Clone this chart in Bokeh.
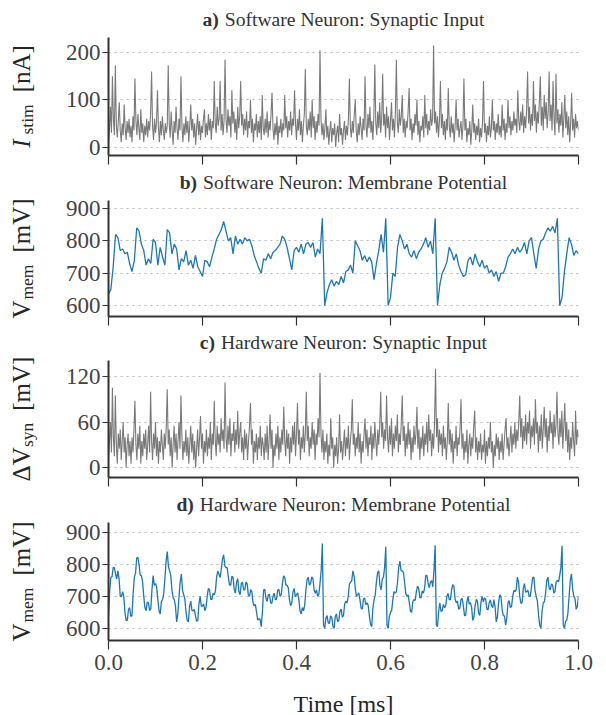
import numpy as np
from bokeh.plotting import figure
from bokeh.layouts import column, row
from bokeh.models import Range1d, Label
from bokeh.embed import file_html
from bokeh.resources import INLINE

# ---------------- data ----------------
panel_letters = ["a)", "b)", "c)", "d)"]
panel_titles = ["Software Neuron: Synaptic Input",
                "Software Neuron: Membrane Potential",
                "Hardware Neuron: Synaptic Input",
                "Hardware Neuron: Membrane Potential"]
ylabel_main = ["I", "V", "\u0394V", "V"]
ylabel_sub = ["stim", "mem", "syn", "mem"]
ylabel_unit = ["[nA]", "[mV]", "[mV]", "[mV]"]
xlabel = "Time [ms]"

xticks = [0.0, 0.2, 0.4, 0.6, 0.8, 1.0]
yticks_a = [0, 100, 200]
yticks_b = [600, 700, 800, 900]
yticks_c = [0, 60, 120]
yticks_d = [600, 700, 800, 900]

# a) software synaptic input current [nA]
sw_input = [5, 40, 85, 30, 150, 60, 25, 173, 45, 20, 55, 95, 35, 10, 50, 25, 90, 40, 15, 55,
            30, 60, 20, 45, 10, 65, 35, 145, 55, 25, 70, 40, 15, 80, 30, 50, 10, 45, 25, 60,
            20, 55, 35, 70, 160, 45, 15, 60, 30, 50, 120, 40, 10, 55, 25, 65, 35, 15, 50, 30,
            45, 173, 50, 20, 75, 35, 5, 55, 30, 85, 40, 15, 60, 35, 150, 45, 10, 50, 25, 65,
            30, 55, 10, 45, 90, 35, 60, 20, 50, 5, 40, 70, 25, 55, 15, 45, 30, 60, 80, 20,
            50, 25, 70, 35, 60, 15, 55, 40, 140, 50, 30, 85, 45, 60, 140, 35, 70, 25, 55, 185,
            60, 30, 80, 45, 65, 20, 120, 50, 75, 30, 60, 15, 85, 40, 65, 140, 45, 70, 25, 60,
            35, 75, 20, 55, 40, 100, 30, 60, 10, 50, 35, 70, 20, 55, 30, 65, 15, 110, 40, 25,
            60, 30, 75, 20, 55, 35, 70, 115, 40, 15, 50, 25, 65, 5, 45, 30, 60, 20, 50, 35,
            110, 40, 65, 20, 55, 35, 75, 25, 60, 45, 120, 50, 15, 60, 35, 80, 25, 55, 10, 45,
            70, 165, 45, 25, 60, 35, 75, 20, 100, 40, 65, 15, 55, 30, 70, 45, 205, 60, 25, 50,
            15, 40, 80, 20, 45, 5, 35, 55, 10, 40, 25, 50, 0, 30, 45, 10, 70, 25, 40, 5,
            35, 55, 15, 45, 25, 60, 145, 40, 20, 55, 30, 70, 100, 35, 10, 50, 25, 65, 40, 15,
            60, 35, 150, 45, 20, 70, 40, 85, 30, 55, 15, 65, 175, 50, 25, 75, 40, 95, 30, 60,
            155, 45, 70, 20, 85, 40, 65, 15, 55, 95, 35, 60, 20, 75, 185, 50, 30, 80, 45, 65,
            110, 30, 60, 20, 55, 40, 75, 125, 35, 60, 15, 50, 30, 70, 45, 100, 25, 55, 10, 45,
            35, 65, 20, 110, 40, 70, 25, 55, 35, 80, 45, 60, 215, 50, 75, 30, 65, 20, 55, 140,
            40, 70, 25, 55, 15, 60, 35, 125, 45, 20, 65, 30, 50, 10, 45, 100, 35, 60, 20, 40,
            55, 15, 45, 145, 35, 60, 10, 40, 25, 55, 5, 35, 90, 30, 50, 15, 45, 25, 60, 10,
            40, 20, 55, 140, 30, 50, 10, 45, 25, 65, 20, 40, 100, 35, 55, 15, 50, 30, 70, 25,
            45, 20, 90, 35, 60, 15, 50, 30, 100, 40, 65, 25, 55, 35, 75, 45, 60, 30, 120, 55,
            35, 75, 45, 90, 30, 65, 40, 80, 160, 50, 85, 35, 70, 45, 140, 55, 90, 30, 75, 50,
            95, 150, 45, 85, 35, 110, 60, 95, 40, 75, 160, 55, 90, 35, 140, 60, 25, 155, 50, 80,
            30, 70, 45, 95, 20, 60, 110, 40, 75, 25, 65, 10, 50, 115, 35, 60, 20, 70, 40, 55,
            35]

# b) software membrane potential [mV]
sw_vmem = [635, 650, 720, 820, 810, 770, 775, 760, 765, 730,
           705, 740, 840, 830, 790, 770, 725, 745, 730, 805,
           795, 725, 780, 750, 725, 835, 825, 760, 790, 775,
           710, 745, 735, 770, 725, 740, 715, 755, 720, 705,
           690, 740, 735, 720, 750, 775, 805, 820, 835, 860,
           830, 800, 810, 760, 815, 790, 805, 790, 810, 800,
           805, 785, 755, 735, 715, 700, 745, 740, 760, 745,
           765, 770, 780, 790, 815, 805, 780, 745, 710, 770,
           780, 765, 790, 760, 790, 795, 780, 795, 750, 775,
           760, 870, 600, 640, 665, 680, 660, 675, 665, 690,
           670, 705, 710, 725, 700, 800, 785, 770, 740, 755,
           735, 750, 735, 680, 730, 770, 820, 765, 870, 600,
           625, 700, 690, 780, 820, 800, 775, 790, 760, 750,
           770, 745, 765, 775, 790, 810, 780, 800, 760, 870,
           600, 665, 700, 715, 735, 780, 765, 740, 760, 725,
           705, 690, 695, 740, 750, 725, 760, 735, 720, 740,
           715, 725, 700, 710, 690, 705, 675, 700, 700, 720,
           750, 760, 775, 760, 780, 765, 775, 795, 760, 800,
           810, 760, 715, 775, 800, 805, 825, 840, 830, 845,
           825, 870, 600, 625, 705, 760, 810, 790, 755, 770,
           760]

# c) hardware synaptic input [mV]
hw_input = [10, 35, 60, 20, 105, 40, 15, 95, 30, 5, 45, 25, 50, 10, 35, 60, 20, 40, 0, 30,
            45, 15, 35, 5, 40, 20, 50, 88, 30, 10, 45, 25, 55, 5, 35, 15, 45, 25, 50, 10,
            30, 55, 20, 100, 35, 10, 45, 25, 60, 15, 40, 5, 35, 20, 50, 30, 10, 45, 25, 55,
            103, 30, 50, 15, 40, 0, 30, 55, 20, 45, 10, 35, 60, 25, 95, 40, 10, 35, 20, 50,
            15, 40, 5, 30, 55, 20, 45, 10, 35, 0, 25, 50, 15, 40, 68, 25, 45, 5, 35, 20,
            50, 15, 40, 25, 60, 10, 45, 30, 88, 35, 15, 55, 30, 45, 20, 65, 35, 50, 25, 112,
            40, 20, 55, 30, 65, 15, 45, 35, 60, 20, 50, 30, 75, 25, 45, 60, 20, 40, 10, 50,
            25, 45, 10, 35, 55, 85, 30, 50, 5, 35, 20, 45, 10, 40, 25, 55, 15, 40, 30, 10,
            45, 20, 55, 10, 35, 70, 25, 50, 0, 30, 15, 45, 25, 55, 10, 40, 20, 50, 30, 80,
            35, 15, 50, 25, 45, 5, 40, 20, 55, 30, 60, 15, 45, 85, 30, 50, 10, 40, 25, 55,
            20, 45, 100, 35, 55, 15, 40, 25, 60, 30, 50, 10, 45, 30, 65, 40, 125, 45, 20, 50,
            10, 35, 20, 45, 5, 30, 15, 65, 25, 40, 0, 30, 15, 40, 5, 25, 70, 20, 35, 10,
            30, 50, 15, 40, 25, 55, 10, 35, 50, 90, 30, 45, 15, 40, 25, 60, 20, 45, 5, 35,
            20, 45, 65, 25, 50, 15, 40, 30, 55, 10, 45, 25, 60, 35, 15, 50, 30, 55, 100, 40,
            60, 25, 50, 35, 95, 40, 20, 55, 30, 65, 15, 45, 25, 55, 35, 70, 20, 45, 30, 60,
            95, 35, 55, 15, 45, 25, 60, 30, 50, 10, 40, 20, 55, 30, 45, 80, 25, 50, 10, 40,
            25, 55, 15, 45, 30, 60, 20, 70, 35, 50, 15, 45, 25, 60, 130, 40, 65, 20, 50, 30,
            45, 15, 55, 25, 40, 10, 35, 85, 30, 50, 20, 45, 5, 35, 25, 55, 15, 40, 30, 50,
            90, 25, 45, 10, 35, 20, 50, 5, 30, 45, 15, 40, 25, 55, 75, 20, 40, 10, 35, 20,
            45, 10, 30, 20, 50, 5, 35, 15, 40, 25, 60, 20, 35, 0, 30, 15, 45, 25, 40, 10,
            35, 20, 45, 10, 30, 50, 65, 25, 40, 15, 35, 55, 20, 45, 30, 60, 25, 50, 35, 60,
            95, 40, 65, 25, 55, 35, 70, 30, 60, 45, 75, 25, 55, 40, 65, 30, 90, 45, 60, 20,
            55, 35, 70, 25, 50, 80, 40, 65, 20, 55, 35, 75, 45, 60, 25, 70, 40, 55, 100, 45,
            30, 65, 40, 75, 25, 55, 85, 35, 60, 20, 50, 10, 40, 25, 60, 35, 15, 75, 30, 50,
            40]

# d) hardware membrane potential [mV]
hw_vmem = [640, 718, 760, 761, 790, 790, 770, 755, 780, 755, 700, 699, 715, 700, 650, 625, 625, 659, 665, 637,
           640, 710, 760, 772, 820, 822, 800, 766, 765, 746, 700, 665, 655, 682, 680, 656, 660, 722, 765, 734,
           740, 729, 690, 655, 645, 683, 690, 708, 755, 809, 840, 794, 780, 765, 720, 695, 690, 669, 620, 645,
           700, 745, 770, 719, 705, 691, 650, 625, 620, 668, 685, 656, 655, 659, 640, 622, 625, 677, 700, 669,
           670, 676, 655, 665, 700, 725, 720, 691, 690, 709, 705, 716, 760, 779, 770, 759, 785, 817, 830, 796,
           790, 790, 760, 735, 735, 763, 760, 721, 710, 744, 755, 715, 705, 739, 745, 720, 720, 745, 740, 704,
           700, 721, 715, 680, 670, 675, 650, 626, 630, 629, 605, 652, 720, 722, 695, 684, 705, 706, 680, 678,
           700, 710, 690, 691, 720, 722, 700, 705, 740, 764, 760, 735, 735, 727, 690, 671, 680, 714, 725, 699,
           705, 711, 690, 655, 645, 665, 655, 673, 720, 752, 760, 735, 740, 761, 755, 720, 710, 720, 700, 706,
           740, 780, 865, 610, 600, 632, 640, 617, 615, 639, 635, 607, 600, 637, 645, 621, 625, 654, 660, 635,
           640, 676, 685, 680, 700, 737, 745, 748, 780, 764, 725, 700, 705, 711, 690, 663, 660, 692, 695, 673,
           680, 672, 640, 612, 605, 662, 690, 703, 745, 774, 780, 735, 720, 754, 760, 790, 855, 610, 600, 637,
           650, 656, 690, 715, 710, 715, 745, 791, 810, 780, 780, 774, 745, 708, 700, 705, 680, 653, 650, 684,
           690, 687, 715, 732, 725, 696, 695, 717, 710, 725, 765, 766, 740, 727, 745, 749, 730, 780, 860, 612,
           605, 654, 680, 653, 655, 675, 665, 670, 700, 709, 690, 690, 720, 737, 730, 691, 680, 685, 660, 663,
           690, 694, 670, 640, 640, 682, 700, 676, 680, 667, 625, 635, 670, 691, 685, 647, 640, 682, 700, 683,
           695, 692, 660, 658, 680, 689, 670, 665, 690, 667, 620, 636, 680, 705, 700, 658, 640, 639, 610, 633,
           680, 687, 665, 668, 700, 719, 715, 722, 760, 744, 700, 678, 680, 725, 740, 713, 715, 719, 700, 700,
           730, 759, 760, 718, 700, 685, 640, 610, 600, 654, 680, 683, 710, 750, 760, 726, 720, 739, 735, 710,
           715, 746, 750, 745, 765, 790, 858, 610, 600, 622, 625, 648, 700, 750, 770, 723, 700, 694, 660, 668,
           700]

# ---------------- styling ----------------
FONT = "Liberation Serif"
GRAY = "#7a7a7a"
BLUE = "#1f77b4"
SPINE = "#333333"
TICKLAB = "#444444"
TXT = "#262626"
TITLE_COL = "#333333"

# Times / Liberation Serif advance widths (1/1000 em)
W_REG = {' ': 250, 'S': 556, 'o': 500, 'f': 333, 't': 278, 'w': 722, 'a': 444,
         'r': 333, 'e': 444, 'N': 722, 'u': 500, 'n': 500, ':': 278, 'y': 500,
         'p': 500, 'i': 278, 'c': 444, 'I': 333, 'M': 889, 'm': 778, 'b': 500,
         'P': 556, 'l': 278, 'H': 722, 'd': 500, '[': 333, ']': 333, 'A': 722,
         'V': 722, 's': 389, 'T': 611, '\u0394': 612}
W_BOLD = {'a': 500, 'b': 556, 'c': 444, 'd': 556, ')': 333, ' ': 250}


def tw(s, size, table=W_REG):
    return sum(table.get(ch, 500) for ch in s) * size / 1000.0


TITLE_SIZE = 19.6
MAIN_SIZE = 25
SUB_SIZE = 17.5
LABEL_GAP = 12
TOTAL_H = 715
LEFT_W = 56
RIGHT_W = 550
FRAME_LEFT = 52          # frame left inside the right-hand figures
FRAME_W = 470
STRIP_CX = FRAME_W / 2   # strips share the panels' frame alignment
STRIP_DY = 6             # measured baseline offset of strip labels
LEFT_DX = -12            # measured offset of rotated labels


def blank(width, height):
    f = figure(width=width, height=height, output_backend="svg", toolbar_location=None,
               tools="", title=None, x_axis_location=None, y_axis_location=None,
               min_border=0)
    f.outline_line_color = None
    f.background_fill_color = "white"
    f.border_fill_color = "white"
    f.xgrid.visible = False
    f.ygrid.visible = False
    return f


def title_strip(idx, height, base):
    f = blank(RIGHT_W, height)
    rest = panel_titles[idx]
    wl = tw(panel_letters[idx], TITLE_SIZE, W_BOLD) + 0.3 * TITLE_SIZE
    wr = tw(rest, TITLE_SIZE)
    x0 = STRIP_CX - (wl + wr) / 2
    yb = base + STRIP_DY
    fs = "%.1fpx" % TITLE_SIZE
    f.add_layout(Label(x=x0, y=yb, x_units="screen", y_units="screen", text=panel_letters[idx],
                       text_font=FONT, text_font_size=fs, text_font_style="bold",
                       text_color=TITLE_COL, text_align="left", text_baseline="alphabetic"))
    f.add_layout(Label(x=x0 + wl, y=yb, x_units="screen", y_units="screen", text=rest,
                       text_font=FONT, text_font_size=fs,
                       text_color=TITLE_COL, text_align="left", text_baseline="alphabetic"))
    return f


def make_panel(values, color, yr, yticks, height, top, bottom, lw, last):
    p = figure(width=RIGHT_W, height=height, x_range=Range1d(0, 1), y_range=Range1d(*yr),
               output_backend="svg", toolbar_location=None, tools="", title=None,
               min_border_left=FRAME_LEFT, min_border_right=RIGHT_W - FRAME_LEFT - FRAME_W,
               min_border_top=top, min_border_bottom=bottom)
    p.outline_line_color = None
    p.background_fill_color = "white"
    p.border_fill_color = "white"
    t = np.linspace(0, 1, len(values))
    p.line(t, values, line_color=color, line_width=lw)

    p.xgrid.visible = False
    p.ygrid.grid_line_color = "#b5b5b5"
    p.ygrid.grid_line_width = 1
    p.ygrid.grid_line_dash = "2 4"

    for ax in (p.xaxis[0], p.yaxis[0]):
        ax.axis_line_color = SPINE
        ax.axis_line_width = 2
        ax.major_tick_line_color = SPINE
        ax.major_tick_line_width = 1.2
        ax.minor_tick_line_color = None
        ax.major_tick_in = 0
        ax.major_label_text_font = FONT
        ax.major_label_text_font_size = "23px"
        ax.major_label_text_color = TICKLAB
    p.xaxis.ticker = xticks
    p.xaxis.major_tick_out = 9
    p.yaxis.ticker = yticks
    p.yaxis.major_tick_out = 6
    p.yaxis.major_label_standoff = 2
    if last:
        p.xaxis.major_label_overrides = {v: "%.1f" % v for v in xticks}
        p.xaxis.major_label_standoff = 5
    else:
        p.xaxis.major_label_overrides = {v: "" for v in xticks}
    return p


# layout heights (page pixels)
H_T = [31, 24, 24, 25]
H_P = [139, 136, 137, 168]
TOPS = [6, 6, 6, 6]
BOTTOMS = [15, 14, 14, 44]
H_X = 31

series = [sw_input, sw_vmem, hw_input, hw_vmem]
colors = [GRAY, BLUE, GRAY, BLUE]
yranges = [(-18, 232), (566, 925), (-13, 141), (562, 931)]
ytick_sets = [yticks_a, yticks_b, yticks_c, yticks_d]
widths = [1.1, 1.3, 1.1, 1.3]

right_items = []
frame_centres = []
ycur = 0
for i in range(4):
    right_items.append(title_strip(i, H_T[i], 6))
    ycur += H_T[i]
    right_items.append(make_panel(series[i], colors[i], yranges[i], ytick_sets[i],
                                  H_P[i], TOPS[i], BOTTOMS[i], widths[i], i == 3))
    frame_top = ycur + TOPS[i]
    frame_bot = ycur + H_P[i] - BOTTOMS[i]
    frame_centres.append((frame_top + frame_bot) / 2.0)
    ycur += H_P[i]

xstrip = blank(RIGHT_W, H_X)
xstrip.add_layout(Label(x=STRIP_CX, y=12, x_units="screen", y_units="screen", text=xlabel,
                        text_font=FONT, text_font_size="24px", text_color=TXT,
                        text_align="center", text_baseline="alphabetic"))
right_items.append(xstrip)

# left strip holding the rotated y-axis labels
left = blank(LEFT_W, TOTAL_H)
BX = 33 + LEFT_DX
for i in range(4):
    main = ylabel_main[i]
    sub = ylabel_sub[i]
    unit = ylabel_unit[i]
    italic = main == "I"
    wm = tw(main, MAIN_SIZE) + (5 if italic else 1)
    ws = tw(sub, SUB_SIZE)
    wu = tw(unit, MAIN_SIZE)
    total = wm + ws + LABEL_GAP + wu
    y0 = TOTAL_H - (frame_centres[i] + total / 2)
    common = dict(x_units="screen", y_units="screen", text_font=FONT, text_color=TXT,
                  text_align="left", text_baseline="alphabetic", angle=np.pi / 2)
    left.add_layout(Label(x=BX, y=y0, text=main, text_font_size="%dpx" % MAIN_SIZE,
                          text_font_style="italic" if italic else "normal", **common))
    left.add_layout(Label(x=BX + 5, y=y0 + wm, text=sub, text_font_size="%.1fpx" % SUB_SIZE,
                          **common))
    left.add_layout(Label(x=BX, y=y0 + wm + ws + LABEL_GAP, text=unit,
                          text_font_size="%dpx" % MAIN_SIZE, **common))

layout = row(left, column(*right_items, spacing=0), spacing=0)
open("out.html", "w").write(file_html(layout, INLINE))
